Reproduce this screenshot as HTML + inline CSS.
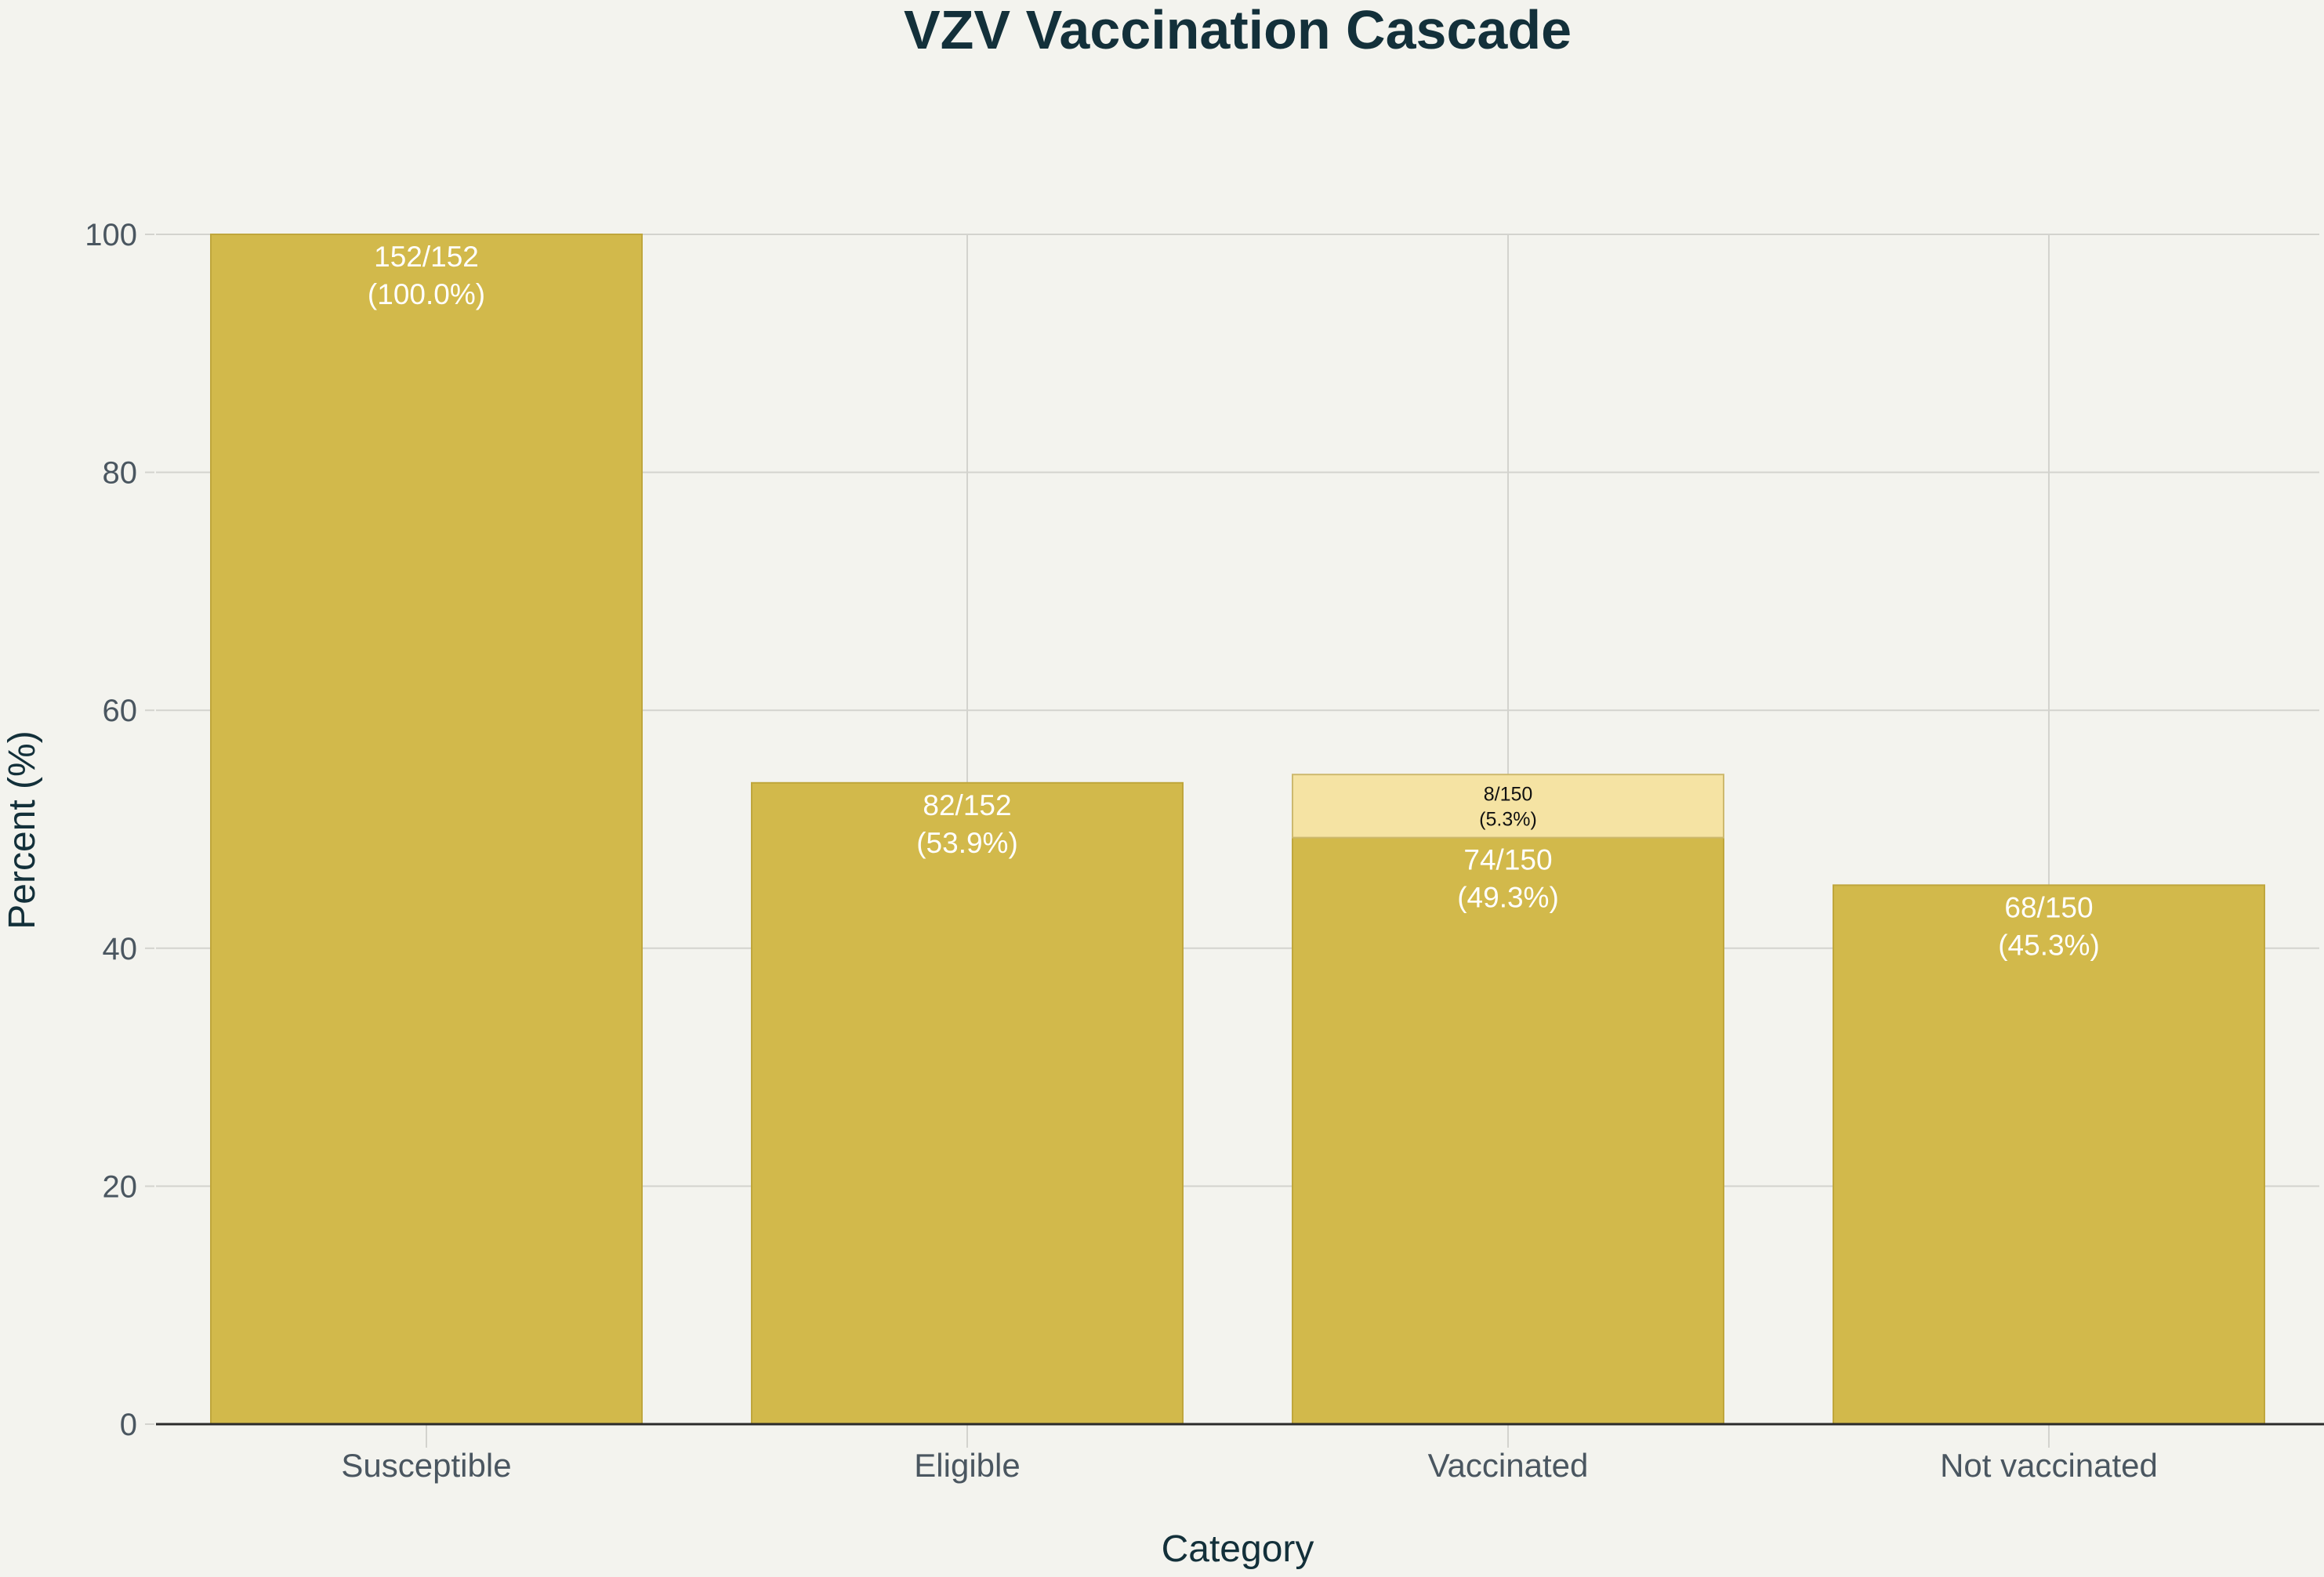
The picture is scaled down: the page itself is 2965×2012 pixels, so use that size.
<!DOCTYPE html>
<html><head><meta charset="utf-8"><style>
html,body{margin:0;padding:0;background:#f3f3ee;}
svg{display:block;font-family:"Liberation Sans",sans-serif;}
</style></head><body>
<svg id="chart" width="2965" height="2012" viewBox="0 0 2965 2012">
<rect x="0" y="0" width="2965" height="2012" fill="#f3f3ee"/>
<text x="1579" y="62" text-anchor="middle" font-size="70" font-weight="bold" fill="#13303a">VZV Vaccination Cascade</text>
<g id="grid"></g><g id="bars"></g><g id="axes"></g>
<text x="1579" y="1992" text-anchor="middle" font-size="48" fill="#13303a">Category</text>
<text transform="translate(44,1059) rotate(-90)" text-anchor="middle" font-size="48" fill="#13303a">Percent (%)</text>
</svg>
<script>
const categories = ["Susceptible","Eligible","Vaccinated","Not vaccinated"];
const baseValues = [100.0, 53.9, 49.3, 45.3];
const baseLabels = ["152/152","82/152","74/150","68/150"];
const basePct = ["(100.0%)","(53.9%)","(49.3%)","(45.3%)"];
const extraValues = [0, 0, 5.3, 0];
const extraLabels = ["","","8/150",""];
const extraPct = ["","","(5.3%)",""];
const yTicks = [0,20,40,60,80,100];

const NS="http://www.w3.org/2000/svg";
const plotLeft=199,plotRight=2959,plotTop=299,plotBottom=1817;
const band=(plotRight-plotLeft)/categories.length;
const barW=550;
function xPos(i){return plotLeft+band*(i+0.5);}
function yPos(v){return plotBottom-(plotBottom-plotTop)*v/100;}
function mk(tag,attrs,parent){const e=document.createElementNS(NS,tag);for(const k in attrs)e.setAttribute(k,attrs[k]);parent.appendChild(e);return e;}
const gridG=document.getElementById('grid'),barsG=document.getElementById('bars'),axesG=document.getElementById('axes');
yTicks.forEach(t=>{
  if(t>0){const l=mk('line',{x1:plotLeft,x2:plotRight,y1:yPos(t),y2:yPos(t),stroke:'#d3d3ce','stroke-width':2},gridG);
  
  }
  const tk=mk('line',{x1:plotLeft-14,x2:plotLeft-2,y1:yPos(t),y2:yPos(t),stroke:'#d3d3ce','stroke-width':2},axesG);
  
  
  const tx=mk('text',{x:plotLeft-24,y:yPos(t)+14,'text-anchor':'end','font-size':40,fill:'#4a5660'},axesG);
  tx.textContent=t;
  
  
});
categories.forEach((c,i)=>{
  const gl=mk('line',{x1:xPos(i),x2:xPos(i),y1:plotTop,y2:plotBottom+30,stroke:'#d3d3ce','stroke-width':2},gridG);
  
  
  const b=mk('rect',{x:xPos(i)-barW/2,y:yPos(baseValues[i]),width:barW,height:yPos(0)-yPos(baseValues[i]),fill:'#d2b94b',stroke:'#bfa63c','stroke-width':2},barsG);
  
  
  const t1=mk('text',{x:xPos(i),y:yPos(baseValues[i])+41,'text-anchor':'middle','font-size':37,fill:'#ffffff'},barsG);
  t1.textContent=baseLabels[i];
  
  
  const t2=mk('text',{x:xPos(i),y:yPos(baseValues[i])+89,'text-anchor':'middle','font-size':37,fill:'#ffffff'},barsG);
  t2.textContent=basePct[i];
  
  
  if(extraValues[i]>0){
    const top2=baseValues[i]+extraValues[i];
    const e=mk('rect',{x:xPos(i)-barW/2,y:yPos(top2),width:barW,height:yPos(baseValues[i])-yPos(top2),fill:'#f5e3a3',stroke:'#cdb96e','stroke-width':2},barsG);
    
    
    const mid=(yPos(top2)+yPos(baseValues[i]))/2;
    const e1=mk('text',{x:xPos(i),y:mid-7,'text-anchor':'middle','font-size':25,fill:'#111'},barsG);
    e1.textContent=extraLabels[i];
    
    
    const e2=mk('text',{x:xPos(i),y:mid+25,'text-anchor':'middle','font-size':25,fill:'#111'},barsG);
    e2.textContent=extraPct[i];
    
    
  }
  const cl=mk('text',{x:xPos(i),y:1884,'text-anchor':'middle','font-size':42,fill:'#4a5660'},axesG);
  cl.textContent=c;
  
  
});
const ax=mk('line',{x1:plotLeft,x2:plotRight+6,y1:plotBottom,y2:plotBottom,stroke:'#2a2a2a','stroke-width':3},axesG);


</script>
</body></html>
